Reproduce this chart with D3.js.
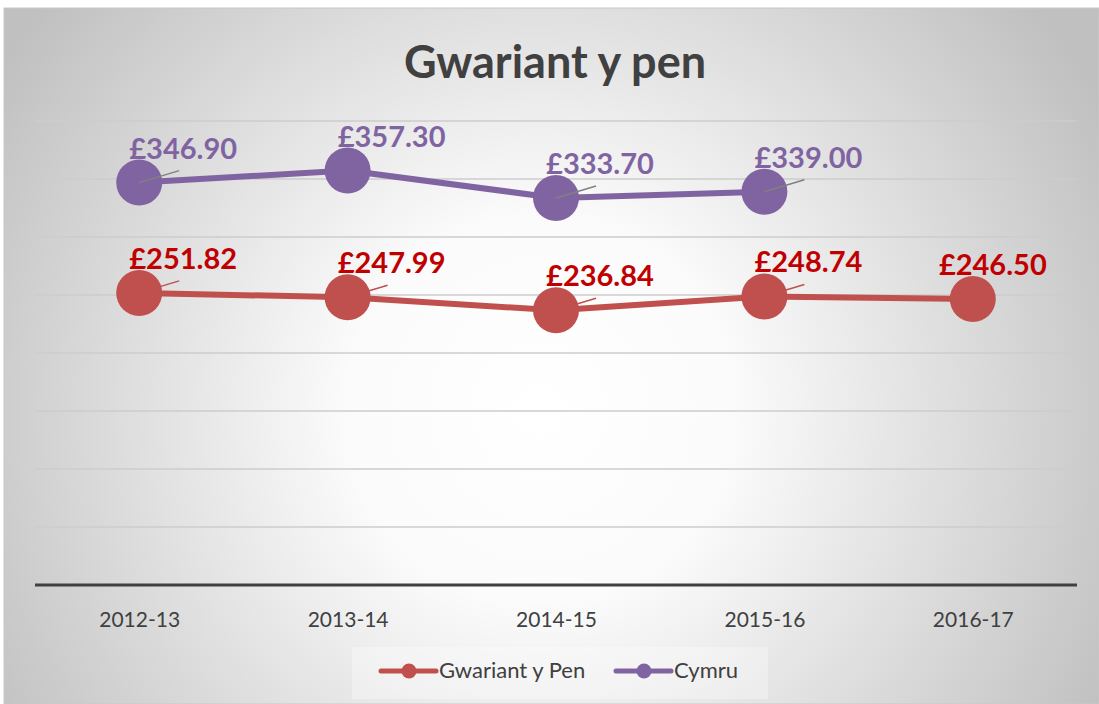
<!DOCTYPE html>
<html><head><meta charset="utf-8">
<script src="https://cdn.jsdelivr.net/npm/d3@7"></script>
<style>html,body{margin:0;padding:0;background:#fff;}svg{display:block;}</style>
</head><body>
<svg id="c" width="1099" height="704"></svg>
<script>
const categories = ["2012-13","2013-14","2014-15","2015-16","2016-17"];
const gwariantValues = [251.82, 247.99, 236.84, 248.74, 246.50];
const cymruValues = [346.90, 357.30, 333.70, 339.00, null];
const yTicks = [0,50,100,150,200,250,300,350,400];
const seriesNames = ["Gwariant y Pen","Cymru"];
const titleText = "Gwariant y pen";

const svg = d3.select("#c");
const W = 1099, H = 704;
const FONT = "Lato, 'Open Sans', sans-serif";

const defs = svg.append("defs");
const rg = defs.append("radialGradient").attr("id","bg")
  .attr("gradientUnits","userSpaceOnUse").attr("cx",540).attr("cy",410).attr("r",640);
rg.append("stop").attr("offset","0%").attr("stop-color","#ffffff");
rg.append("stop").attr("offset","30%").attr("stop-color","#fbfbfb");
rg.append("stop").attr("offset","100%").attr("stop-color","#c0c0c0");

svg.append("rect").attr("x",4).attr("y",8).attr("width",W-4).attr("height",H-8)
  .attr("fill","url(#bg)").attr("stroke","#c8c8c8").attr("stroke-width",1);

const x = d3.scalePoint().domain(categories).range([35,1077]).padding(0.5);
const y = d3.scaleLinear().domain([0,400]).range([585,121]);

// gridlines
svg.append("g").selectAll("line").data(yTicks.filter(d=>d>0)).join("line")
  .attr("x1",35).attr("x2",1077).attr("y1",d=>y(d)).attr("y2",d=>y(d))
  .attr("stroke","#cccccc").attr("stroke-width",1.3);

// baseline axis
const xAxis = d3.axisBottom(x).tickSize(0).tickPadding(0);
const ax = svg.append("g").attr("transform",`translate(0,${y(0)})`).call(xAxis);
ax.select(".domain").attr("d","M35,0H1077").attr("stroke","#404040").attr("stroke-width",3);
ax.selectAll("text").attr("font-family",FONT).attr("font-size",21).attr("fill","#404040")
  .attr("dy",0).attr("y",42);

// title
svg.append("text").attr("x",555).attr("y",78).attr("text-anchor","middle")
  .attr("font-family",FONT).attr("font-weight","bold").attr("font-size",45)
  .attr("fill","#404040").text(titleText);

const series = [
  {name:seriesNames[0], values:gwariantValues, color:"#C0504D", label:"#C00000", leader:"#C0504D"},
  {name:seriesNames[1], values:cymruValues, color:"#8064A2", label:"#8064A2", leader:"#808080"}
];
const fmt = v => "£" + d3.format(".2f")(v);
const noLeader = {"Cymru-1":true, "Gwariant y Pen-4":true};

series.slice().reverse().forEach(s=>{
  const pts = categories.map((c,i)=>({c, v:s.values[i], i})).filter(d=>d.v!=null);
  const g = svg.append("g");
  g.append("path").datum(pts)
    .attr("d", d3.line().x(d=>x(d.c)).y(d=>y(d.v)))
    .attr("fill","none").attr("stroke",s.color).attr("stroke-width",6).attr("stroke-linejoin","round");
  g.selectAll("circle").data(pts).join("circle")
    .attr("cx",d=>x(d.c)).attr("cy",d=>y(d.v)).attr("r",23).attr("fill",s.color);
  g.selectAll("line.leader").data(pts.filter(d=>!noLeader[s.name+"-"+d.i])).join("line")
    .attr("class","leader")
    .attr("x1",d=>x(d.c)).attr("y1",d=>y(d.v))
    .attr("x2",d=>x(d.c)+40).attr("y2",d=>y(d.v)-12)
    .attr("stroke",s.leader).attr("stroke-width",1.5);
  g.selectAll("text").data(pts).join("text")
    .attr("x",d=>x(d.c) + (d.i===4 ? 20 : 44))
    .attr("y",d=>y(d.v) - 24)
    .attr("text-anchor","middle")
    .attr("font-family",FONT).attr("font-weight","bold").attr("font-size",29)
    .attr("fill",s.label).text(d=>fmt(d.v));
});

// legend
const lg = svg.append("g");
lg.append("rect").attr("x",352).attr("y",647).attr("width",416).attr("height",52)
  .attr("fill","#ffffff").attr("fill-opacity",0.3);
const legendItems = [{s:series[0], x0:381},{s:series[1], x0:616}];
legendItems.forEach(li=>{
  lg.append("line").attr("x1",li.x0).attr("x2",li.x0+55).attr("y1",671).attr("y2",671)
    .attr("stroke",li.s.color).attr("stroke-width",5).attr("stroke-linecap","round");
  lg.append("circle").attr("cx",li.x0+28).attr("cy",671).attr("r",7.5).attr("fill",li.s.color);
  lg.append("text").attr("x",li.x0+58).attr("y",678).attr("font-family",FONT)
    .attr("font-size",22).attr("fill","#404040").text(li.s.name);
});
</script>
</body></html>
